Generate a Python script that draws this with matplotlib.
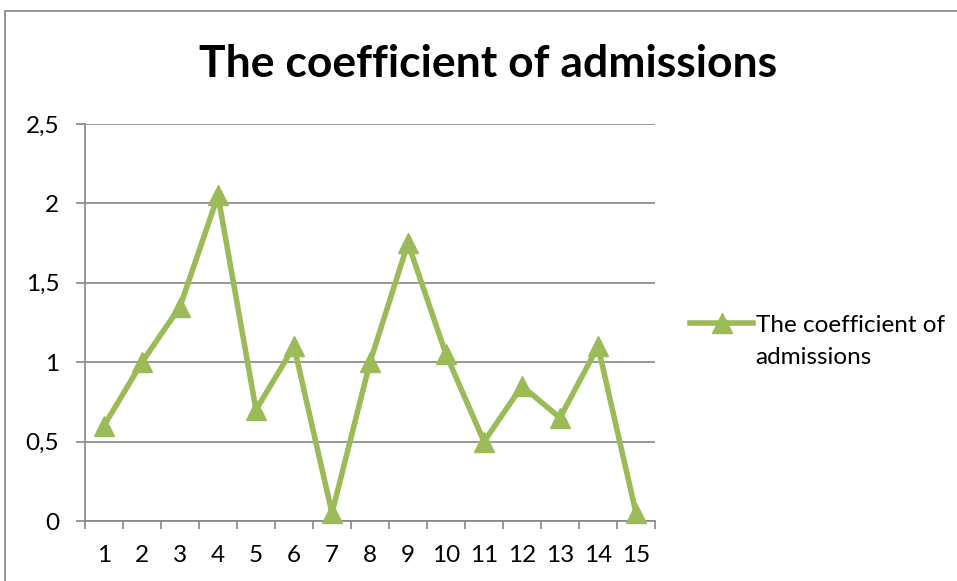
import matplotlib.pyplot as plt
from matplotlib.patches import Rectangle
from matplotlib.ticker import FixedLocator, FuncFormatter

plt.rcParams['font.family'] = ['Lato', 'DejaVu Sans']

# Coefficient of admissions per period
periods = list(range(1, 16))
coefficient = [0.6, 1.0, 1.35, 2.05, 0.7, 1.1, 0.05, 1.0, 1.75, 1.05, 0.5, 0.85, 0.65, 1.1, 0.05]
y_ticks = [0, 0.5, 1, 1.5, 2, 2.5]
series_name = ['The coefficient of', 'admissions']

green = '#9BBB59'
grid_gray = '#868686'

W, H = 957, 581
fig = plt.figure(figsize=(W / 100, H / 100), dpi=100)
ax = fig.add_axes([85 / W, (H - 521) / H, 570 / W, 397 / H])

# outer chart border (runs off the right and bottom edges)
fig.patches.append(Rectangle((5 / W, -0.1), 1.2, 1.1 - 11 / H, transform=fig.transFigure,
                             fill=False, edgecolor='#8c8c8c', linewidth=1.3))

line, = ax.plot(periods, coefficient, color=green, linewidth=4, marker='^', markersize=15,
                markeredgecolor=green, markerfacecolor=green, clip_on=False, zorder=3)

ax.set_xlim(0.5, 15.5)
ax.set_ylim(0, 2.5)
ax.set_yticks(y_ticks)
ax.yaxis.set_major_formatter(FuncFormatter(lambda v, p: ('%g' % v).replace('.', ',')))
ax.set_xticks(periods)
ax.xaxis.set_minor_locator(FixedLocator([i + 0.5 for i in range(0, 16)]))

ax.grid(axis='y', color=grid_gray, linewidth=1.2)
ax.set_axisbelow(True)
for s in ['top', 'right']:
    ax.spines[s].set_visible(False)
for s in ['left', 'bottom']:
    ax.spines[s].set_color(grid_gray)
    ax.spines[s].set_linewidth(1.2)

ax.tick_params(axis='y', length=6.5, width=1.2, color=grid_gray, pad=12, labelsize=17.5)
ax.tick_params(axis='x', which='major', length=0, pad=17, labelsize=17.5)
ax.tick_params(axis='x', which='minor', length=6, width=1.2, color=grid_gray)

fig.text(488 / W, 1 - 64 / H, 'The coefficient of admissions', ha='center', va='center',
         fontsize=32, fontweight='bold')

# legend: handle sits on the first line, second line wraps underneath
leg = fig.legend([line], [series_name[0]], loc='center left',
                 bbox_to_anchor=(690 / W, 1 - 325 / H), frameon=False,
                 fontsize=17.5, handlelength=2.6, handletextpad=0.1,
                 borderpad=0, borderaxespad=0)
fig.canvas.draw()
tx = leg.get_texts()[0].get_window_extent().x0
fig.text(tx / W, 1 - 357 / H, series_name[1], ha='left', va='center', fontsize=17.5)

fig.savefig('out.png', dpi=100)
